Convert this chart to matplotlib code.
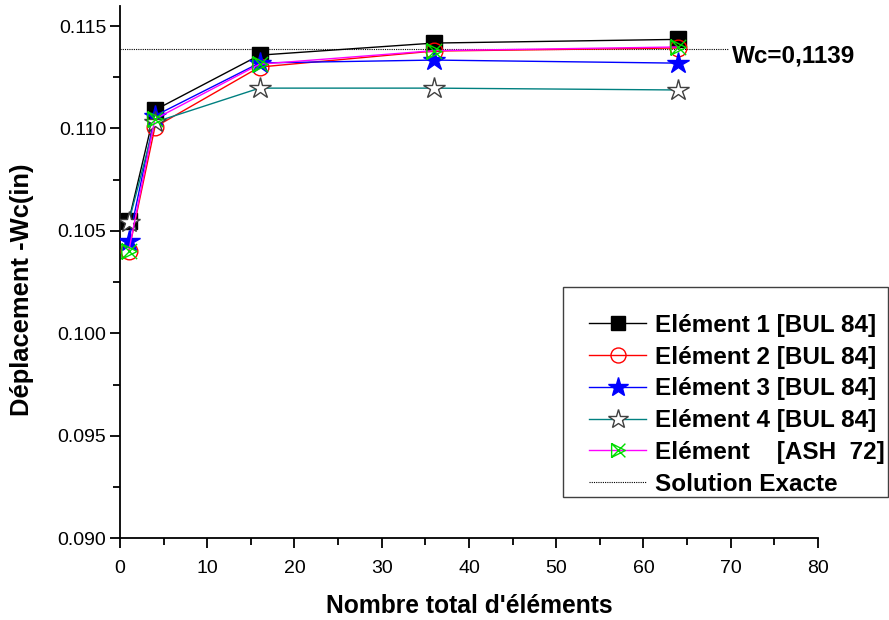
import matplotlib
matplotlib.use("Agg")
import matplotlib.pyplot as plt
from matplotlib.path import Path
from matplotlib.patches import Rectangle

plt.rcParams["font.family"] = ["Liberation Sans", "DejaVu Sans"]

# nombre total d'elements
n_elem = [1, 4, 16, 36, 64]

elem1 = [0.10548, 0.11090, 0.11358, 0.11417, 0.11435]
elem2 = [0.10401, 0.11007, 0.11300, 0.11378, 0.11393]
elem3 = [0.10452, 0.11062, 0.11320, 0.11334, 0.11319]
elem4 = [0.10543, 0.11031, 0.11197, 0.11197, 0.11188]
ash72 = [0.10401, 0.11046, 0.11314, 0.11380, 0.11398]

wc_exact = 0.1139
labels = ["Elément 1 [BUL 84]", "Elément 2 [BUL 84]", "Elément 3 [BUL 84]",
          "Elément 4 [BUL 84]", "Elément    [ASH  72]", "Solution Exacte"]

# marqueur "triangle + croix" pour ASH 72
verts = [(-1, 1), (1, 0), (-1, -1), (-1, 1), (1, -1), (1, 1), (-1, -1)]
codes = [Path.MOVETO, Path.LINETO, Path.LINETO, Path.LINETO,
         Path.LINETO, Path.MOVETO, Path.LINETO]
mk_ash = Path(verts, codes)

fig = plt.figure(figsize=(8.89, 6.2), dpi=100)
ax = fig.add_axes([0.135, 0.132, 0.785, 0.859])

ax.plot(n_elem, elem1, color="black", lw=1, marker="s", ms=11,
        mfc="black", mec="black", label=labels[0], zorder=3)
ax.plot(n_elem, elem2, color="red", lw=1, marker="o", ms=12,
        mfc="none", mec="red", label=labels[1], zorder=3)
ax.plot(n_elem, elem3, color="blue", lw=1, marker="*", ms=16,
        mfc="blue", mec="blue", label=labels[2], zorder=3)
ax.plot(n_elem, elem4, color="#008080", lw=1, marker="*", ms=16,
        mfc="white", mec="#404040", mew=1, label=labels[3], zorder=3)
ax.plot(n_elem, ash72, color="magenta", lw=1, marker=mk_ash, ms=11,
        mfc="none", mec="#00dd00", mew=1, label=labels[4], zorder=3)
ax.plot([0, 69.7], [wc_exact, wc_exact], color="black", lw=0.8,
        ls=(0, (1, 1)), label=labels[5], zorder=2)

ax.text(70.2, wc_exact - 0.00035, "Wc=0,1139", fontsize=17.5, fontweight="bold",
        va="center", ha="left")

ax.set_xlim(0, 80)
ax.set_ylim(0.090, 0.116)
ax.set_xticks(range(0, 81, 10))
ax.set_xticks(range(5, 80, 10), minor=True)
ax.set_yticks([0.090, 0.095, 0.100, 0.105, 0.110, 0.115])
ax.set_yticklabels(["0.090", "0.095", "0.100", "0.105", "0.110", "0.115"])
ax.set_yticks([0.0925, 0.0975, 0.1025, 0.1075, 0.1125], minor=True)
ax.tick_params(which="major", length=7, width=1.3, labelsize=14,
               direction="out")
ax.tick_params(axis="x", which="major", pad=9)
ax.tick_params(axis="y", which="major", pad=3)
ax.tick_params(which="minor", length=5, width=1.3, direction="out")
ax.spines["top"].set_visible(False)
ax.spines["right"].set_visible(False)
ax.spines["left"].set_linewidth(1.3)
ax.spines["bottom"].set_linewidth(1.3)

ax.set_xlabel("Nombre total d'éléments", fontsize=17.7, fontweight="bold",
              labelpad=12)
ax.set_ylabel("Déplacement -Wc(in)", fontsize=18.4, fontweight="bold")
ax.yaxis.set_label_coords(-0.123, 0.466)

# cadre de la legende (plus de marge a gauche qu'a droite, comme l'original)
W, H = 889, 620
cadre = Rectangle((563 / W, (H - 497) / H), 325 / W, 210 / H,
                  transform=fig.transFigure, fill=True, facecolor="white",
                  edgecolor="#404040", lw=1, zorder=5, clip_on=False)
ax.add_patch(cadre)

leg = ax.legend(loc="upper left", bbox_to_anchor=(589 / W, (H - 314) / H),
                bbox_transform=fig.transFigure, borderaxespad=0, borderpad=0,
                prop={"size": 17.5, "weight": "bold"}, frameon=False,
                handlelength=2.35, handletextpad=0.37, labelspacing=0.36,
                markerscale=0.9)
leg.set_zorder(6)

fig.savefig("out.png", dpi=100)
